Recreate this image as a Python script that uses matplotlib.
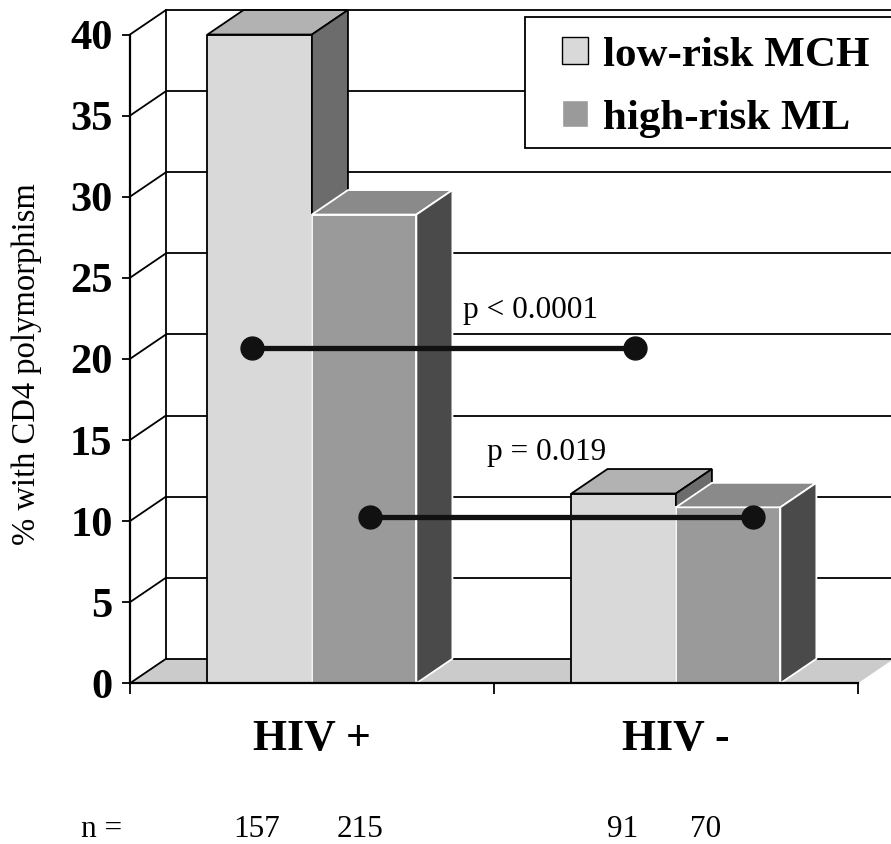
import numpy as np
import matplotlib
matplotlib.use('Agg')
import matplotlib.pyplot as plt
from matplotlib.patches import Polygon, Rectangle, Patch

# ---------------- data ----------------
categories = ['HIV +', 'HIV -']
series_names = ['low-risk MCH', 'high-risk ML']
low_risk = [40.0, 11.7]
high_risk = [28.9, 10.85]
n_low = [157, 91]
n_high = [215, 70]
y_ticks = [0, 5, 10, 15, 20, 25, 30, 35, 40]
y_label = '% with CD4 polymorphism'
sig_labels = ['p < 0.0001', 'p = 0.019']
sig_level = [20.65, 10.25]          # height of the comparison lines
sig_start = [-0.165, 0.159]         # comparison line ends (category units)
sig_end = [0.887, 1.212]

# ---------------- style / layout ----------------
FONT = 'Liberation Serif'
plt.rcParams['font.family'] = [FONT, 'DejaVu Serif']
LOW_FRONT, LOW_TOP, LOW_SIDE = '#d9d9d9', '#b2b2b2', '#6c6c6c'
HIGH_FRONT, HIGH_TOP, HIGH_SIDE = '#9a9a9a', '#8a8a8a', '#4a4a4a'
FLOOR = '#cbcbcb'
W = 0.287            # bar width (category units)
DX, DY = 0.099, 1.51  # 3-D depth offset
X0, X1 = -0.5, 1.5
YMAX = 40
LW = 1.3

fig = plt.figure(figsize=(8.91, 8.44), dpi=100)
ax = fig.add_axes([0, 0, 1, 1])
ax.set_xlim(-0.857, 1.591)
ax.set_ylim(-9.91, 42.13)
ax.patch.set_visible(False)

xpos = np.arange(len(categories))

# floor
ax.add_patch(Polygon([(X0, 0), (X1, 0), (X1 + DX, DY), (X0 + DX, DY)],
                     closed=True, fc=FLOOR, ec='none', zorder=1))
# back wall + side wall grid lines
for t in y_ticks:
    ax.plot([X0 + DX, X1 + DX + 0.3], [t + DY, t + DY], color='black', lw=LW,
            zorder=1.5, solid_capstyle='butt')
    ax.plot([X0, X0 + DX], [t, t + DY], color='black', lw=LW, zorder=1.5)
ax.plot([X0 + DX, X0 + DX], [DY, YMAX + DY], color='black', lw=LW, zorder=1.5)


def draw_bars(lefts, vals, front, top, side, edge, z):
    bars = ax.bar(lefts, vals, width=W, align='edge', color=front,
                  edgecolor=edge, linewidth=LW, zorder=z)
    for b in bars:
        x0, w, h = b.get_x(), b.get_width(), b.get_height()
        ax.add_patch(Polygon([(x0, h), (x0 + w, h), (x0 + w + DX, h + DY), (x0 + DX, h + DY)],
                             closed=True, fc=top, ec=edge, lw=LW, zorder=z))
        ax.add_patch(Polygon([(x0 + w, 0), (x0 + w + DX, DY), (x0 + w + DX, h + DY), (x0 + w, h)],
                             closed=True, fc=side, ec=edge, lw=LW, zorder=z))
    return bars


draw_bars(xpos - W, low_risk, LOW_FRONT, LOW_TOP, LOW_SIDE, 'black', 3)
draw_bars(xpos, high_risk, HIGH_FRONT, HIGH_TOP, HIGH_SIDE, 'white', 4)

# axes (front plane)
for s in ['top', 'right']:
    ax.spines[s].set_visible(False)
ax.spines['left'].set_position(('data', X0))
ax.spines['left'].set_bounds(0, YMAX)
ax.spines['bottom'].set_position(('data', 0))
ax.spines['bottom'].set_bounds(X0, X1)
for s in ['left', 'bottom']:
    ax.spines[s].set_linewidth(1.6)
    ax.spines[s].set_zorder(10)

ax.set_yticks(y_ticks)
ax.set_yticklabels([str(t) for t in y_ticks], fontsize=30.5, fontweight='bold')
ax.tick_params(axis='y', length=6, width=LW, pad=6.5, direction='out')
ax.set_xticks([X0, (X0 + X1) / 2, X1])
ax.set_xticklabels([])
ax.tick_params(axis='x', which='major', length=8, width=LW, direction='out')
ax.set_xticks(xpos, minor=True)
ax.set_xticklabels(categories, minor=True, fontsize=31.5, fontweight='bold')
ax.tick_params(axis='x', which='minor', length=0, pad=26)

ax.set_ylabel(y_label, fontsize=23.5)
ax.yaxis.set_label_coords(0.047, 0.569)

# comparison lines
for lab, lv, xs, xe in zip(sig_labels, sig_level, sig_start, sig_end):
    ax.plot([xs, xe], [lv, lv], color='#111111', lw=3.8, marker='o', ms=16.5,
            zorder=6, solid_capstyle='butt')
ax.text(0.415, 22.5, sig_labels[0], fontsize=22.5, ha='left', va='baseline', zorder=7)
ax.text(0.481, 13.77, sig_labels[1], fontsize=22.5, ha='left', va='baseline', zorder=7)

# n row
ax.text(-0.577, -9.45, 'n =', fontsize=22.5, ha='center', va='baseline')
n_x = [-0.151, 0.854]
n_x2 = [0.132, 1.082]
for xx, nv in zip(n_x, n_low):
    ax.text(xx, -9.45, str(nv), fontsize=22.5, ha='center', va='baseline')
for xx, nv in zip(n_x2, n_high):
    ax.text(xx, -9.45, str(nv), fontsize=22.5, ha='center', va='baseline')

# legend
frame = Rectangle((525 / 891, 1 - 148 / 844), 0.45, 131 / 844, transform=ax.transAxes,
                  fc='white', ec='black', lw=LW, zorder=7, clip_on=False)
ax.add_patch(frame)
handles = [Patch(fc=LOW_FRONT, ec='black', lw=1.0), Patch(fc=HIGH_FRONT, ec='white', lw=1.0)]
leg = ax.legend(handles, series_names, loc='upper left',
                bbox_to_anchor=(549 / 891, 1 - 24 / 844), frameon=False,
                prop={'family': FONT, 'weight': 'bold', 'size': 31},
                handlelength=0.6, handleheight=0.6, handletextpad=0.35,
                labelspacing=0.58, borderpad=0.3, borderaxespad=0)
leg.set_zorder(8)

fig.savefig('out.png', dpi=100)
